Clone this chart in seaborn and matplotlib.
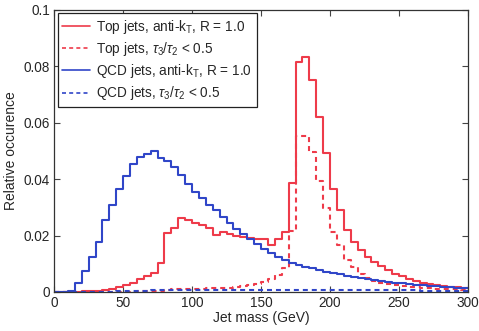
import numpy as np
import pandas as pd
import matplotlib
matplotlib.use("Agg")
import matplotlib.pyplot as plt
import seaborn as sns

# 5 GeV bins from 0 to 300
bin_edges = list(range(0, 305, 5))

top_antikt = [0, 0, 0, 0.0001, 0.0002, 0.0003, 0.0005, 0.0008, 0.0012, 0.0017,
              0.0024, 0.0031, 0.0045, 0.0057, 0.0068, 0.0102, 0.0208, 0.0228, 0.0261, 0.0255,
              0.0246, 0.0237, 0.0226, 0.0202, 0.0214, 0.0206, 0.0200, 0.0195, 0.0190, 0.0188,
              0.0188, 0.0167, 0.0186, 0.0212, 0.0385, 0.0817, 0.0834, 0.0752, 0.0622, 0.0492,
              0.0365, 0.0290, 0.0220, 0.0178, 0.0148, 0.0124, 0.0107, 0.0091, 0.0077, 0.0065,
              0.0055, 0.0046, 0.0039, 0.0033, 0.0028, 0.0024, 0.0021, 0.0019, 0.0017, 0.0015]

top_tau = [0, 0, 0, 0, 0, 0, 0, 0, 0, 0,
           0.0001, 0.0001, 0.0002, 0.0002, 0.0002, 0.0003, 0.0008, 0.0010, 0.0011, 0.0011,
           0.0012, 0.0012, 0.0013, 0.0013, 0.0014, 0.0015, 0.0017, 0.0020, 0.0024, 0.0029,
           0.0034, 0.0045, 0.0060, 0.0085, 0.0215, 0.0553, 0.0553, 0.0497, 0.0394, 0.0296,
           0.0214, 0.0165, 0.0112, 0.0088, 0.0062, 0.0048, 0.0039, 0.0032, 0.0027, 0.0023,
           0.0020, 0.0018, 0.0016, 0.0014, 0.0013, 0.0012, 0.0011, 0.0010, 0.0009, 0.0008]

qcd_antikt = [0, 0, 0.0005, 0.0033, 0.0074, 0.0123, 0.0178, 0.0255, 0.0310, 0.0366,
              0.0412, 0.0455, 0.0480, 0.0489, 0.0501, 0.0474, 0.0466, 0.0444, 0.0415, 0.0382,
              0.0356, 0.0332, 0.0310, 0.0290, 0.0267, 0.0245, 0.0222, 0.0205, 0.0187, 0.0169,
              0.0152, 0.0138, 0.0125, 0.0113, 0.0104, 0.0097, 0.0090, 0.0084, 0.0078, 0.0072,
              0.0067, 0.0062, 0.0057, 0.0053, 0.0049, 0.0045, 0.0042, 0.0039, 0.0036, 0.0033,
              0.0030, 0.0028, 0.0026, 0.0024, 0.0022, 0.0020, 0.0018, 0.0016, 0.0015, 0.0013]

qcd_tau = [0, 0, 0, 0, 0, 0, 0, 0.0001, 0.0001, 0.0002,
           0.0003, 0.0003, 0.0004, 0.0005, 0.0006, 0.0006, 0.0007, 0.0007, 0.0008, 0.0008,
           0.0008, 0.0008, 0.0008, 0.0008, 0.0008, 0.0008, 0.0008, 0.0008, 0.0008, 0.0008,
           0.0008, 0.0008, 0.0008, 0.0008, 0.0008, 0.0008, 0.0008, 0.0008, 0.0007, 0.0007,
           0.0007, 0.0007, 0.0007, 0.0007, 0.0007, 0.0007, 0.0006, 0.0006, 0.0006, 0.0006,
           0.0006, 0.0006, 0.0006, 0.0005, 0.0005, 0.0005, 0.0005, 0.0005, 0.0005, 0.0005]

labels = [r"Top jets, anti-k$_\mathregular{T}$, R = 1.0",
          r"Top jets, $\tau_3/\tau_2$ < 0.5",
          r"QCD jets, anti-k$_\mathregular{T}$, R = 1.0",
          r"QCD jets, $\tau_3/\tau_2$ < 0.5"]
x_ticks = [0, 50, 100, 150, 200, 250, 300]
y_ticks = [0, 0.02, 0.04, 0.06, 0.08, 0.1]
y_ticklabels = ["0", "0.02", "0.04", "0.06", "0.08", "0.1"]

RED = "#ee3b4a"
BLUE = "#3046c8"
DASH = (0, (2.4, 1.9))

sns.set_theme(style="ticks")
plt.rcParams["font.family"] = ["Liberation Sans", "DejaVu Sans"]
plt.rcParams["mathtext.fontset"] = "custom"
plt.rcParams["mathtext.rm"] = "Liberation Sans"
plt.rcParams["mathtext.it"] = "Liberation Sans:italic"

centers = [(a + b) / 2 for a, b in zip(bin_edges[:-1], bin_edges[1:])]

fig = plt.figure(figsize=(4.79, 3.31), dpi=100)
ax = fig.add_axes([0.113, 0.118, 0.864, 0.852])

series = [(top_antikt, RED, "-"), (top_tau, RED, DASH),
          (qcd_antikt, BLUE, "-"), (qcd_tau, BLUE, DASH)]
for (vals, col, ls), lab in zip(series, labels):
    df = pd.DataFrame({"mass": centers, "w": vals})
    sns.histplot(data=df, x="mass", weights="w", bins=bin_edges, element="step",
                 fill=False, color=col, linestyle=ls, linewidth=1.5, ax=ax, label=lab)

ax.set_xlim(0, 300)
ax.set_ylim(0, 0.1)
ax.set_xticks(x_ticks)
ax.set_yticks(y_ticks)
ax.set_yticklabels(y_ticklabels)
ax.tick_params(direction="in", top=True, right=True, labelsize=9.8, length=4,
               width=0.8, color="#444444", pad=3)
for s in ax.spines.values():
    s.set_linewidth(0.9)
    s.set_color("#333333")
ax.set_xlabel("Jet mass (GeV)", fontsize=10, labelpad=1)
ax.set_ylabel("Relative occurence", fontsize=10, labelpad=4)

leg = ax.legend(loc="upper left", fontsize=9.8, frameon=True, fancybox=False,
                framealpha=1, edgecolor="#222222", handlelength=2.05,
                borderaxespad=0.25, labelspacing=0.3, handletextpad=0.45,
                borderpad=0.35)
leg.get_frame().set_linewidth(0.9)
for line in leg.get_lines():
    line.set_linewidth(1.2)

fig.savefig("out.png", dpi=100)
